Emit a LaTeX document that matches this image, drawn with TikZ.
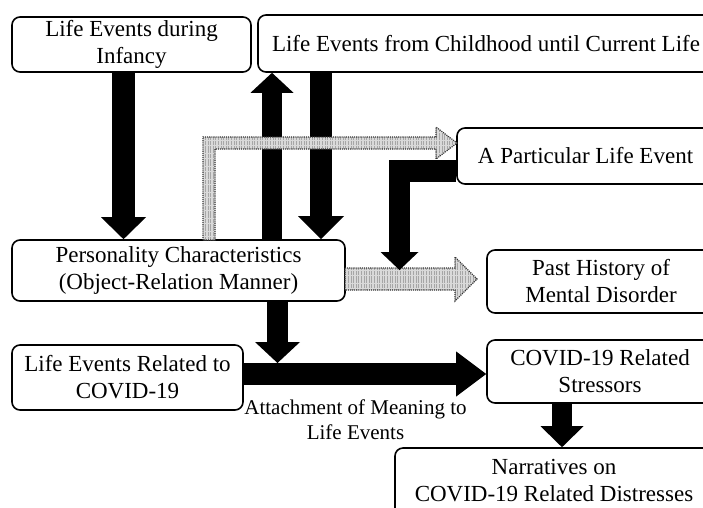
\documentclass[tikz,border=0pt]{standalone}
\usepackage{fontspec}
\setmainfont{Liberation Serif}
\usetikzlibrary{arrows.meta,patterns.meta,calc}
\begin{document}
\begin{tikzpicture}[x=1pt,y=-1pt,
  box/.style={draw, line width=1.6pt, rounded corners=8pt, align=center, inner sep=0pt,
    font=\fontsize{23}{27}\selectfont},
  fat/.style args={#1/#2/#3}{line width=#1, line join=miter,
    -{Triangle[length=#3, width=#2, line width=0pt]}},
  grayarrow/.style={draw=black!80, densely dotted, line width=1.1pt,
    preaction={fill=gray!30},
    pattern={Lines[angle=90,distance=2.6pt,line width=0.9pt]}, pattern color=gray!70},
  lbl/.style={align=center, inner sep=0pt, font=\fontsize{21}{25}\selectfont}]
\clip (0,0) rectangle (703,507);
\useasboundingbox (0,0) rectangle (703,507);

% boxes
\node[box, minimum width=239pt, minimum height=55pt] (inf) at (131.5,44.5) {Life Events during\\Infancy};
\node[box, minimum width=456pt, minimum height=57pt] (chi) at (486,43.5) {Life Events from Childhood until Current Life};
\node[box, minimum width=257pt, minimum height=56pt] (apl) at (585.5,156) {A Particular Life Event};
\node[box, minimum width=333pt, minimum height=61pt] (per) at (178.5,270.5) {Personality Characteristics\\(Object-Relation Manner)};
\node[box, minimum width=228pt, minimum height=63pt] (pmd) at (601,281.5) {Past History of\\Mental Disorder};
\node[box, minimum width=231pt, minimum height=65pt] (cov) at (127.5,377.5) {Life Events Related to\\COVID-19};
\node[box, minimum width=226pt, minimum height=63pt] (str) at (600,371.5) {COVID-19 Related\\Stressors};
\node[box, minimum width=318pt, minimum height=92pt] (nar) at (554,494) {};
\node[align=center, inner sep=0pt, font=\fontsize{23}{27}\selectfont] (nartxt) at (554,481) {Narratives on\\COVID-19 Related Distresses};

\node[lbl] (att) at (355.5,419.5) {Attachment of Meaning to\\Life Events};

% helper coordinates
\coordinate (xa) at (123.5,0);
\coordinate (xb) at (272,0);
\coordinate (xc) at (321,0);
\coordinate (xd) at (277.5,0);
\coordinate (yh) at (0,374);
\coordinate (jn) at (277.5,363);
\coordinate (xe) at (562,0);
\coordinate (yl) at (0,171);
\coordinate (lc) at (399.5,171);
\coordinate (lt) at (399.5,270);

% black arrows
\draw[fat=23pt/45pt/22pt] (inf.south -| xa) -- (per.north -| xa);
\draw[fat=20pt/43pt/20pt] (per.north -| xb) -- (chi.south -| xb);
\draw[fat=22pt/46pt/23pt] (chi.south -| xc) -- (per.north -| xc);
\draw[fat=21pt/45pt/21pt] (per.south -| xd) -- (jn);
\draw[fat=22pt/45pt/30pt] (cov.east |- yh) -- (str.west |- yh);
\draw[fat=20pt/43pt/21pt] (str.south -| xe) -- (nar.north -| xe);

% gray dotted arrows
\path[grayarrow] (203,240) -- (203,137) -- (436,137) -- (436,127) -- (457,143)
  -- (436,159) -- (436,149) -- (215,149) -- (215,240) -- cycle;
\path[grayarrow] (345,268) -- (455,268) -- (455,257) -- (477,279) -- (455,301)
  -- (455,290) -- (345,290) -- cycle;

% L-shaped black arrow
\draw[fat=21.5pt/38pt/18pt] (apl.west |- yl) -- (lc) -- (lt);
\end{tikzpicture}
\end{document}
